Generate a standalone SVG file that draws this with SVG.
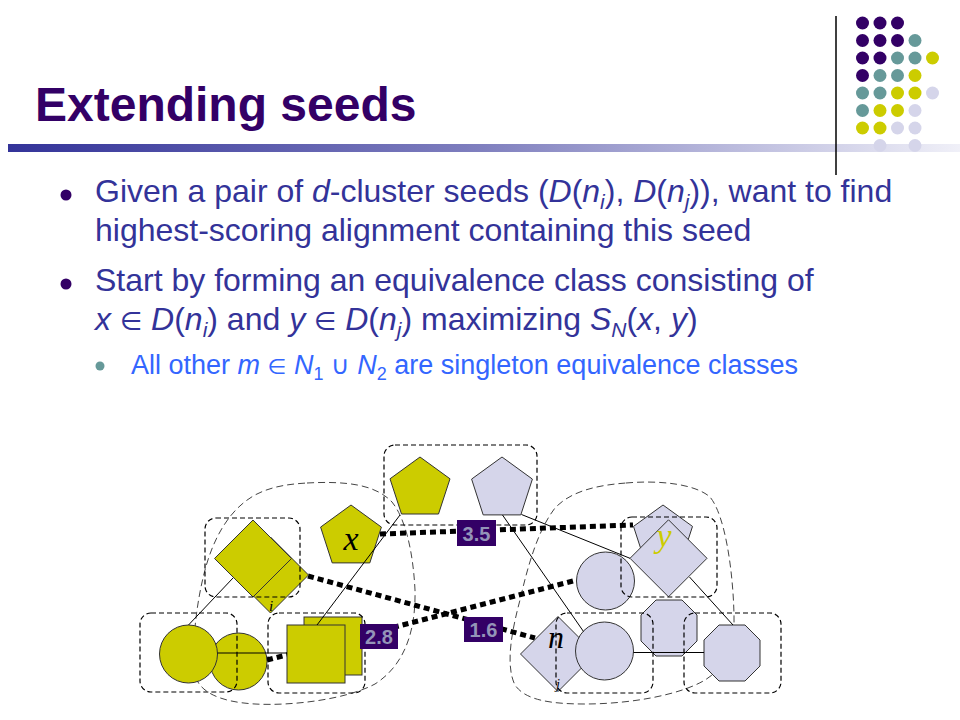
<svg xmlns="http://www.w3.org/2000/svg" width="960" height="720" viewBox="0 0 960 720">
<defs>
<linearGradient id="bar" x1="0" y1="0" x2="1" y2="0">
<stop offset="0" stop-color="#333399"/>
<stop offset="0.5" stop-color="#8080bf"/>
<stop offset="1" stop-color="#f0f0f8"/>
</linearGradient>
<style>
.body{font-family:"Liberation Sans",Arial,sans-serif;font-size:32px;fill:#333399}
.sub{font-family:"Liberation Sans",Arial,sans-serif;font-size:27px;fill:#3366ff}
.it{font-style:italic}
.sym{font-family:"DejaVu Sans",sans-serif;font-size:0.8em}
.cup{font-family:"DejaVu Sans",sans-serif;font-size:0.95em}
.yel{fill:#cccc00;stroke:#333;stroke-width:1}
.lav{fill:#d5d5ea;stroke:#333;stroke-width:1}
.blob{fill:none;stroke:#444;stroke-width:1;stroke-dasharray:7 4}
.grp{fill:none;stroke:#000;stroke-width:1.2;stroke-dasharray:5 3}
.thin{stroke:#000;stroke-width:1;fill:none}
.dots{stroke:#000;stroke-width:5;stroke-dasharray:6 4;fill:none}
.score rect{fill:#330066}
.score text{font-family:"Liberation Sans",Arial,sans-serif;font-weight:bold;font-size:20px;fill:#9494b8;text-anchor:middle}
.lbl{font-family:"Liberation Serif","Times New Roman",serif;font-style:italic;text-anchor:middle}
.pu{fill:#330066}.te{fill:#669999}.ye{fill:#cccc00}.la{fill:#d5d5ea}
</style>
</defs>
<rect width="960" height="720" fill="#fff"/>

<g id="decor">
<rect x="8" y="144" width="952" height="8" fill="url(#bar)"/>
<line x1="836" y1="16" x2="836" y2="175" stroke="#000" stroke-width="1.5"/>
<g id="dotgrid">
<circle class="pu" cx="862.5" cy="23" r="6.5"/><circle class="pu" cx="880" cy="23" r="6.5"/><circle class="pu" cx="897.5" cy="23" r="6.5"/>
<circle class="pu" cx="862.5" cy="40.5" r="6.5"/><circle class="pu" cx="880" cy="40.5" r="6.5"/><circle class="pu" cx="897.5" cy="40.5" r="6.5"/><circle class="te" cx="915" cy="40.5" r="6.5"/>
<circle class="pu" cx="862.5" cy="58" r="6.5"/><circle class="pu" cx="880" cy="58" r="6.5"/><circle class="te" cx="897.5" cy="58" r="6.5"/><circle class="te" cx="915" cy="58" r="6.5"/><circle class="ye" cx="932.5" cy="58" r="6.5"/>
<circle class="pu" cx="862.5" cy="75.5" r="6.5"/><circle class="te" cx="880" cy="75.5" r="6.5"/><circle class="te" cx="897.5" cy="75.5" r="6.5"/><circle class="ye" cx="915" cy="75.5" r="6.5"/>
<circle class="te" cx="862.5" cy="93" r="6.5"/><circle class="te" cx="880" cy="93" r="6.5"/><circle class="ye" cx="897.5" cy="93" r="6.5"/><circle class="ye" cx="915" cy="93" r="6.5"/><circle class="la" cx="932.5" cy="93" r="6.5"/>
<circle class="te" cx="862.5" cy="110.5" r="6.5"/><circle class="ye" cx="880" cy="110.5" r="6.5"/><circle class="ye" cx="897.5" cy="110.5" r="6.5"/><circle class="la" cx="915" cy="110.5" r="6.5"/>
<circle class="ye" cx="862.5" cy="128" r="6.5"/><circle class="ye" cx="880" cy="128" r="6.5"/><circle class="la" cx="897.5" cy="128" r="6.5"/><circle class="la" cx="915" cy="128" r="6.5"/>
<circle class="la" cx="880" cy="145.5" r="6.5"/><circle class="la" cx="915" cy="145.5" r="6.5"/>
</g>
</g>

<g id="title">
<text x="35" y="121" font-family="'Liberation Sans',Arial,sans-serif" font-weight="bold" font-size="48" fill="#330066">Extending seeds</text>
</g>

<g id="bullets">
<circle cx="66" cy="195" r="5.5" fill="#330066"/>
<circle cx="66" cy="284" r="5.5" fill="#330066"/>
<circle cx="100" cy="366" r="4.5" fill="#669999"/>
<text class="body" x="95" y="202">Given a pair of <tspan class="it">d</tspan>-cluster seeds (<tspan class="it">D</tspan>(<tspan class="it">n</tspan><tspan class="it" font-size="21" dy="7">i</tspan><tspan dy="-7">), </tspan><tspan class="it">D</tspan>(<tspan class="it">n</tspan><tspan class="it" font-size="21" dy="7">j</tspan><tspan dy="-7">)), want to find</tspan></text>
<text class="body" x="95" y="241">highest-scoring alignment containing this seed</text>
<text class="body" x="95" y="291">Start by forming an equivalence class consisting of</text>
<text class="body" x="95" y="330"><tspan class="it">x</tspan> <tspan class="sym">∈</tspan> <tspan class="it">D</tspan>(<tspan class="it">n</tspan><tspan class="it" font-size="21" dy="7">i</tspan><tspan dy="-7">) and </tspan><tspan class="it">y</tspan> <tspan class="sym">∈</tspan> <tspan class="it">D</tspan>(<tspan class="it">n</tspan><tspan class="it" font-size="21" dy="7">j</tspan><tspan dy="-7">) maximizing </tspan><tspan class="it">S</tspan><tspan class="it" font-size="21" dy="7">N</tspan><tspan dy="-7">(</tspan><tspan class="it">x</tspan>, <tspan class="it">y</tspan>)</text>
<text class="sub" x="131" y="374">All other <tspan class="it">m</tspan> <tspan class="sym">∈</tspan> <tspan class="it">N</tspan><tspan font-size="18" dy="6">1</tspan><tspan dy="-6"> </tspan><tspan class="cup">∪</tspan> <tspan class="it">N</tspan><tspan font-size="18" dy="6">2</tspan><tspan dy="-6"> are singleton equivalence classes</tspan></text>
</g>

<g id="clusters-large">
<path id="Dni" class="blob" d="M307,483 C345,481 375,484 392,502 C405,518 413,550 415,590 C416,630 405,665 375,684 C345,700 290,706 255,704 C220,702 196,692 194,670 C192,640 197,600 205,570 C213,540 228,510 255,495 C272,486 290,484 307,483 Z"/>
<path id="Dnj" class="blob" d="M626,483 C660,480 695,484 710,497 C725,515 733,570 734,615 C735,645 725,668 705,680 C680,695 630,704 585,704 C550,704 525,700 515,685 C505,665 512,630 520,600 C528,565 538,530 555,508 C572,490 600,485 626,483 Z"/>
</g>

<g id="connectors-scored">
<line class="dots" x1="380" y1="534" x2="633" y2="525"/>
<line class="dots" x1="308" y1="576" x2="535" y2="638"/>
<line class="dots" x1="267" y1="660" x2="577" y2="580"/>
</g>

<g id="nodes">
<g id="node-i">
<polygon class="yel" points="270.5,537 308.5,575 270.5,613 232.5,575"/>
<polygon class="yel" points="253,520 291.5,558.5 253,597 214.5,558.5"/>
<text class="lbl" x="271" y="611" font-size="15" fill="#000">i</text>
</g>
<g id="node-x">
<polygon class="yel" points="351,505 381.4,527.1 369.8,562.9 332.2,562.9 320.6,527.1"/>
<text class="lbl" x="351" y="550" font-size="34" fill="#000">x</text>
</g>
<g id="node-pent-yellow"><polygon class="yel" points="420,457 450,478.8 438.5,514 401.5,514 390,478.8"/></g>
<g id="node-pent-lav"><polygon class="lav" points="502,457 532.4,479.1 520.8,514.9 483.2,514.9 471.6,479.1"/></g>
<g id="node-circ2"><circle class="yel" cx="238.5" cy="661.5" r="28.5"/></g>
<g id="node-circ1"><circle class="yel" cx="188.5" cy="654" r="29"/></g>
<g id="node-sq-back"><rect class="yel" x="304" y="617" width="58" height="58"/></g>
<g id="node-sq-front"><rect class="yel" x="287" y="625" width="58" height="58"/></g>
<g id="node-y">
<polygon class="lav" points="663,505 692.5,526.4 681.2,561.1 644.8,561.1 633.5,526.4"/>
<polygon class="lav" points="668.5,519.8 707,558.3 668.5,596.8 630,558.3"/>
<text class="lbl" x="664" y="547" font-size="34" fill="#cccc00">y</text>
</g>
<g id="node-circ-upper"><circle class="lav" cx="605.5" cy="581" r="29"/></g>
<g id="node-oct-upper"><polygon class="lav" points="656,600 682,600 697,615 697,641 682,656 656,656 641,641 641,615"/></g>
<g id="node-n">
<polygon class="lav" points="558,616.5 595.5,654 558,691.5 520.5,654"/>
<text class="lbl" x="556" y="648" font-size="32" fill="#000">n</text>
<text class="lbl" x="558" y="689" font-size="14" fill="#000">j</text>
</g>
<g id="node-circ-n"><circle class="lav" cx="604.5" cy="651" r="29"/></g>
<g id="node-oct-lower"><polygon class="lav" points="719,625 745,625 760,640 760,666 745,681 719,681 704,666 704,640"/></g>
</g>

<g id="connectors">
<line class="thin" x1="233" y1="578" x2="188.5" y2="625"/>
<line class="thin" x1="400" y1="515" x2="317" y2="625"/>
<line class="thin" x1="217.5" y1="653" x2="287" y2="653"/>
<line class="thin" x1="502.5" y1="515" x2="583.5" y2="631.5"/>
<line class="thin" x1="521.5" y1="514.5" x2="630" y2="558.3"/>
<line class="thin" x1="689.5" y1="577" x2="733" y2="625"/>
<line class="thin" x1="633.5" y1="652.5" x2="704" y2="652.5"/>
</g>

<g id="clusters-small">
<rect class="grp" x="205" y="518" width="95" height="79" rx="11"/>
<rect class="grp" x="140" y="613" width="97" height="79" rx="11"/>
<rect class="grp" x="268" y="613" width="97" height="80" rx="11"/>
<rect class="grp" x="384" y="445" width="153" height="80" rx="11"/>
<rect class="grp" x="621" y="517" width="96" height="80" rx="11"/>
<rect class="grp" x="556" y="613" width="97" height="80" rx="11"/>
<rect class="grp" x="684" y="613" width="97" height="80" rx="11"/>
</g>

<g id="scores">
<g class="score"><rect x="457" y="520" width="39" height="26"/><text x="476.5" y="540.5">3.5</text></g>
<g class="score"><rect x="464" y="617" width="39" height="25"/><text x="483.5" y="637">1.6</text></g>
<g class="score"><rect x="360" y="624" width="38" height="25"/><text x="379" y="644">2.8</text></g>
</g>
</svg>
